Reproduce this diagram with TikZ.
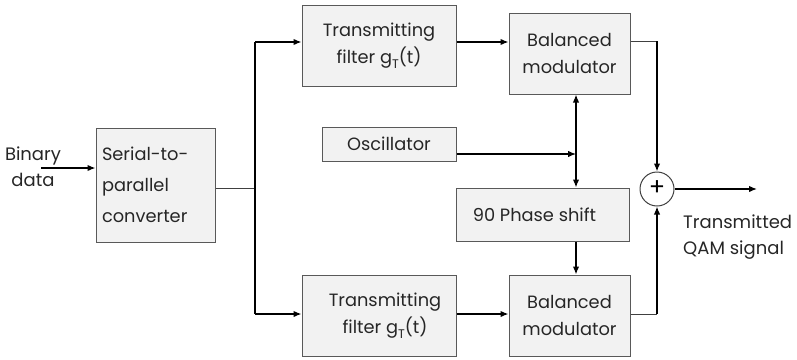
\documentclass[tikz,border=0pt]{standalone}
\usepackage{fontspec}
\setmainfont{Poppins}
\usetikzlibrary{arrows.meta,calc}
\tikzset{
  blk/.style={draw=black!65, line width=1pt, fill=black!5, inner sep=2pt, align=center, font=\fontsize{17.8}{27}\selectfont, text=black!85},
  lbl/.style={inner sep=0pt, font=\fontsize{18}{26}\selectfont, text=black!85},
  arr/.style={line width=1.4pt, -{Latex[length=8pt,width=6.5pt]}},
  wire/.style={line width=1.4pt},
  thin/.style={line width=1pt, draw=black!75},
}
\newcommand{\gT}{g\raisebox{-0.55ex}{\fontsize{12.5}{12.5}\selectfont T}(t)}
\begin{document}
\begin{tikzpicture}[x=1pt,y=-1pt]
\useasboundingbox (0,0) rectangle (797,359);
% blocks
\node[blk, minimum width=119pt, minimum height=114pt, text width=107pt, align=left, font=\fontsize{17.8}{31}\selectfont] (sp) at (155.5,185) {Serial-to-\\parallel\\converter};
\node[blk, minimum width=154pt, minimum height=81pt] (f1) at (379,45.5) {Transmitting\\filter \gT};
\node[blk, minimum width=121pt, minimum height=81pt] (m1) at (569.5,53.5) {Balanced\\modulator};
\node[blk, minimum width=134pt, minimum height=34pt] (osc) at (389,144) {Oscillator};
\node[blk, minimum width=173pt, minimum height=53pt] (ph) at (542.5,214.5) {90 Phase shift\hspace{16pt}};
\node[blk, minimum width=154pt, minimum height=81pt] (f2) at (379,315.5) {\hspace{12pt}Transmitting\\\hspace{12pt}filter \gT};
\node[blk, minimum width=121pt, minimum height=81pt] (m2) at (569.5,315.5) {Balanced\\modulator};
\node[draw=black!75, line width=1pt, fill=white, circle, minimum size=34pt, inner sep=0pt, font=\fontsize{24}{24}\selectfont, text=black] (sum) at (657,189) {\raisebox{0.08ex}{+}};
% labels
\node[lbl, align=center] (bin) at (33,167) {Binary\\data};
\node[lbl, align=left, anchor=west] (out) at (683,237) {Transmitted\\QAM signal};
% coordinates
\coordinate (in) at (41,168);
\coordinate (br) at (255,188);
\coordinate (bt) at (255,42);
\coordinate (bb) at (255,314);
\coordinate (ot) at (657,41);
\coordinate (ob) at (657,314);
\coordinate (oj) at (576,154);
\coordinate (qo) at (757,189);
% connectors
\draw[arr] (in) -- (sp.west |- in);
\draw[thin] (sp.east |- br) -- (br);
\draw[wire] (bt) -- (bb);
\draw[arr] (bt) -- (f1.west |- bt);
\draw[arr] (bb) -- (f2.west |- bb);
\draw[arr] (f1.east |- bt) -- (m1.west |- bt);
\draw[arr] (f2.east |- bb) -- (m2.west |- bb);
\draw[thin] (m1.east |- ot) -- (ot);
\draw[arr] (ot) -- (sum.north);
\draw[thin] (m2.east |- ob) -- (ob);
\draw[arr] (ob) -- (sum.south);
\draw[arr] (sum.east) -- (qo);
\draw[line width=1.2pt, -{Latex[length=8pt,width=6.5pt]}] (osc.east |- oj) -- (oj);
\draw[line width=1.4pt, {Latex[length=8pt,width=6.5pt]}-{Latex[length=8pt,width=6.5pt]}] (m1.south -| oj) -- (ph.north -| oj);
\draw[arr] (ph.south -| oj) -- (m2.north -| oj);
\end{tikzpicture}
\end{document}
